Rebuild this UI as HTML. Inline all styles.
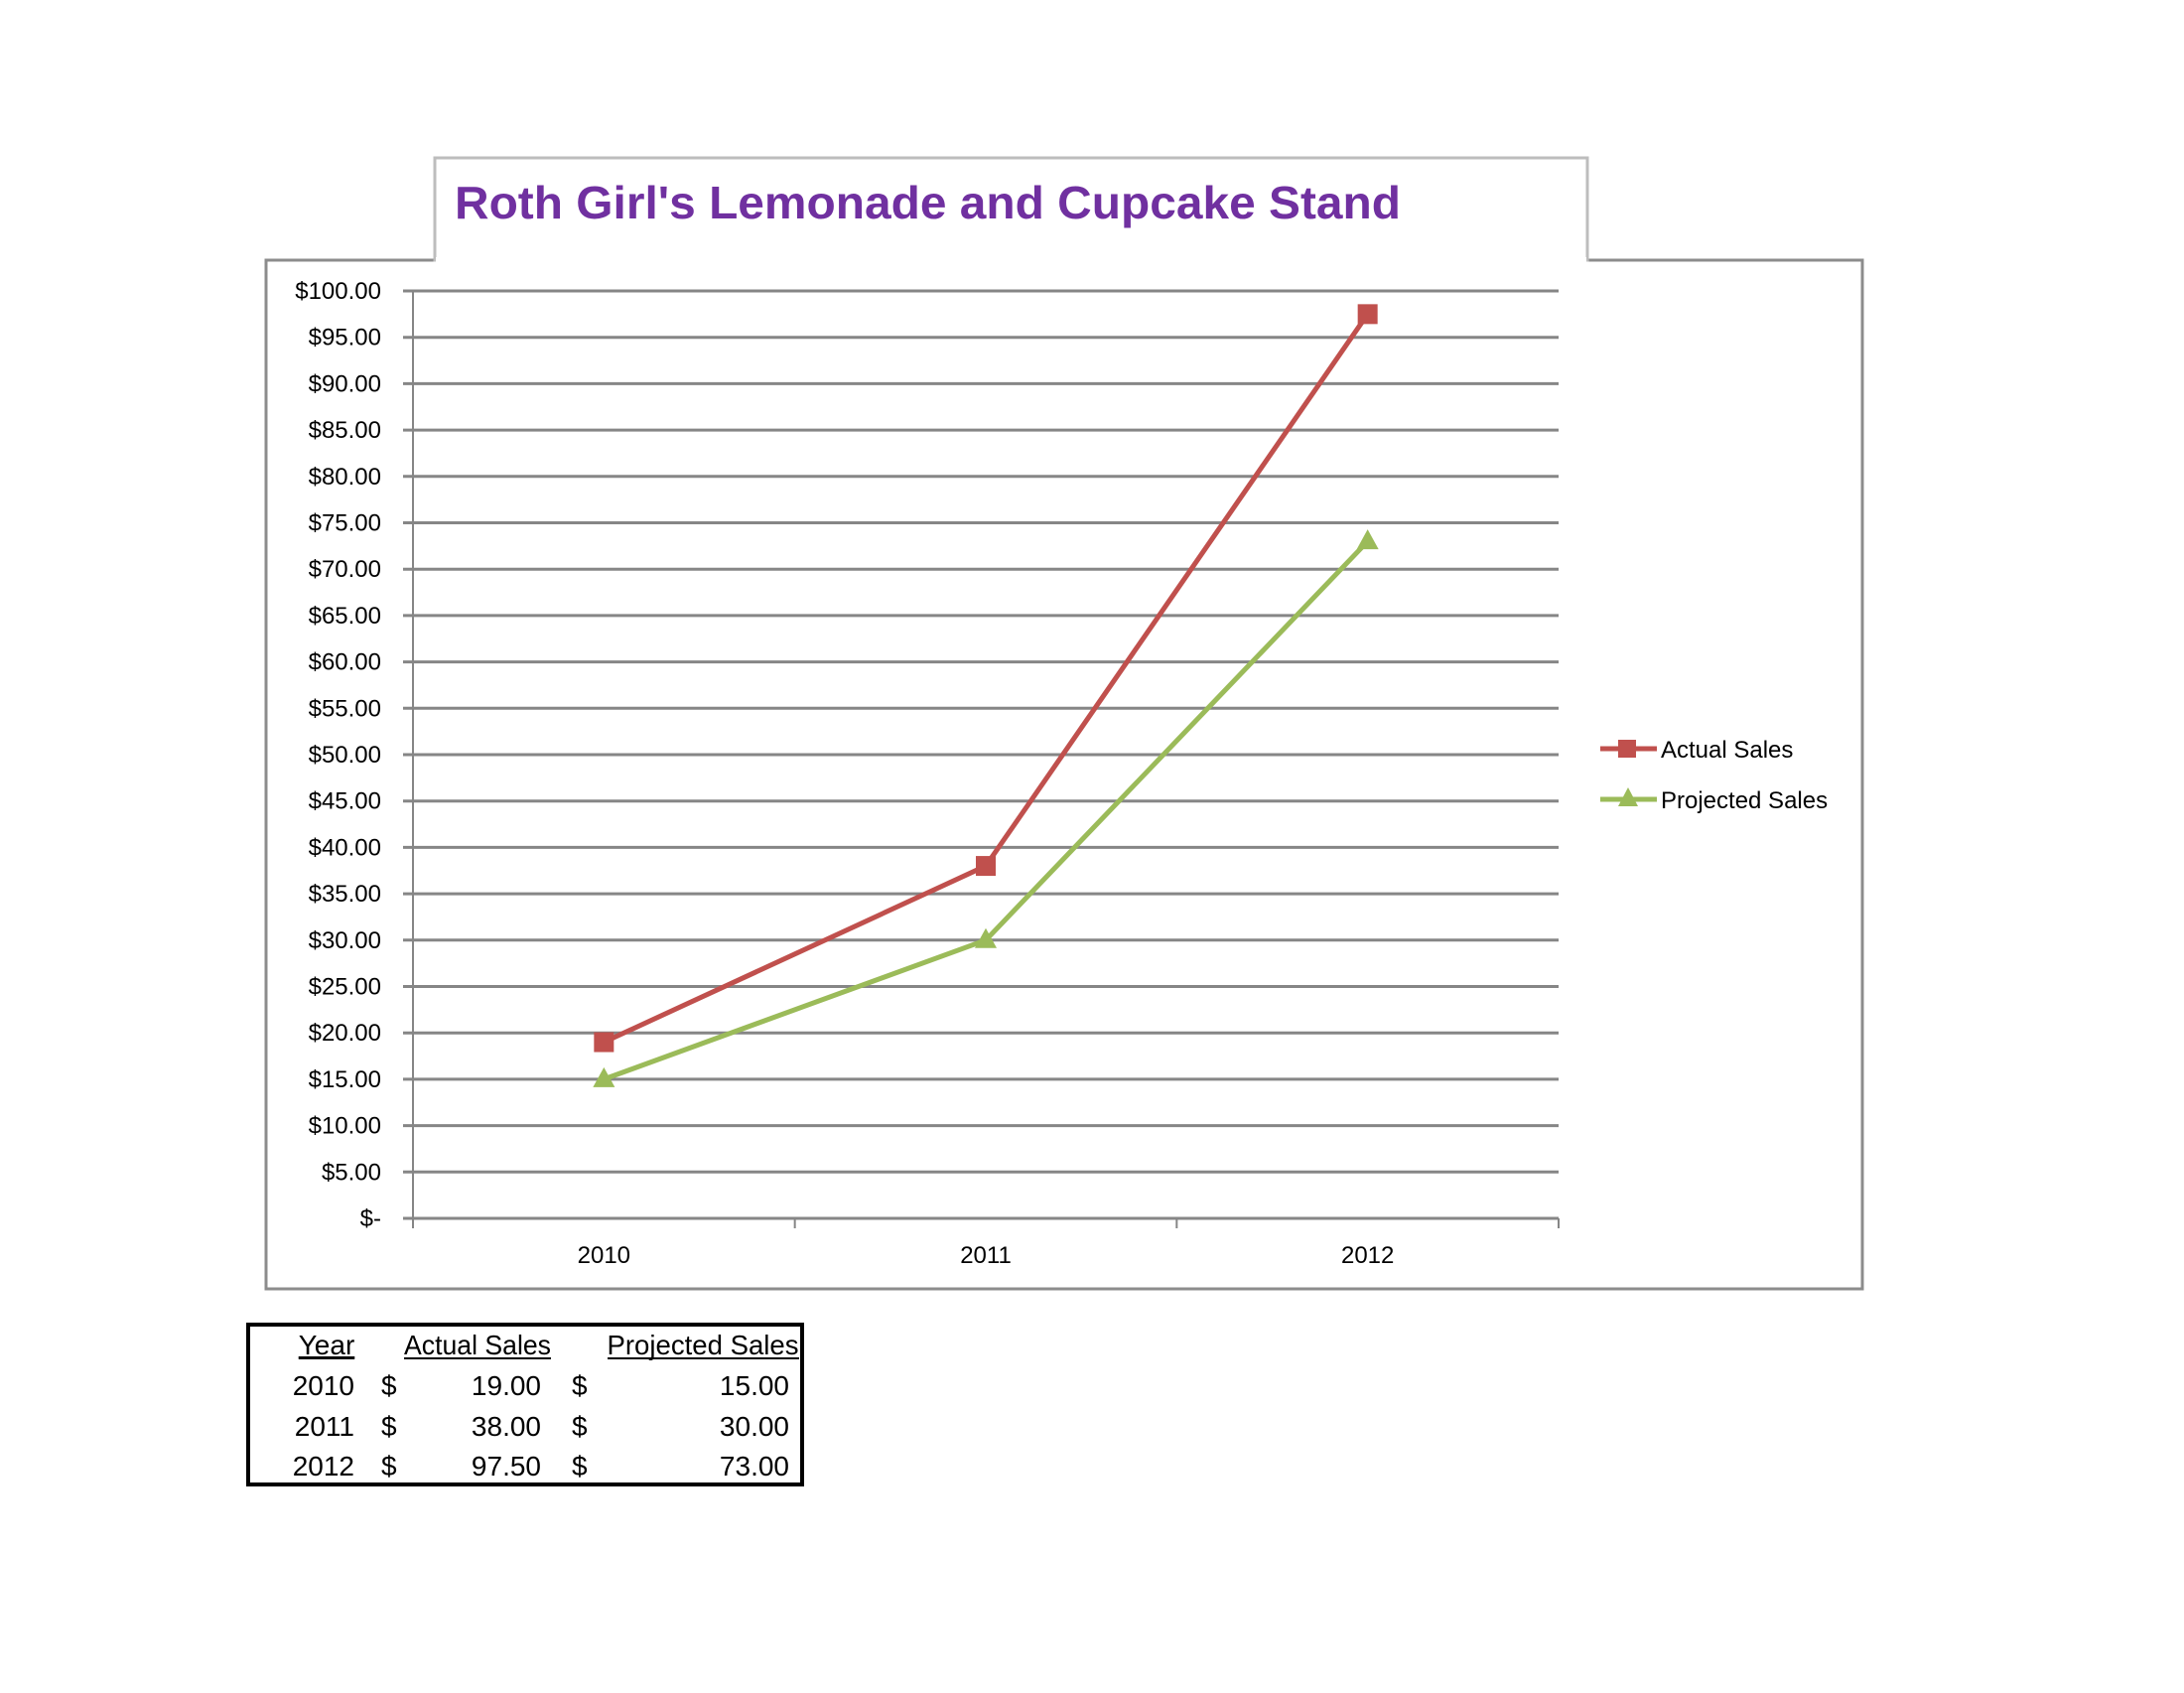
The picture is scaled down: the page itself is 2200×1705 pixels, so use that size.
<!DOCTYPE html>
<html><head><meta charset="utf-8"><style>
body{margin:0;background:#fff;}
svg text{font-family:"Liberation Sans",sans-serif;}
</style></head><body>
<svg id="c" width="2200" height="1700" xmlns="http://www.w3.org/2000/svg">
<rect x="268" y="262" width="1608" height="1036" fill="#fff" stroke="#8c8c8c" stroke-width="3"/>
<rect x="438" y="159" width="1161" height="103" fill="#fff" stroke="#bdbdbd" stroke-width="3"/>
<rect x="439" y="259" width="1159" height="6" fill="#fff"/>
<text x="458" y="220" font-size="46" font-weight="bold" fill="#7030A0" textLength="953" lengthAdjust="spacingAndGlyphs">Roth Girl's Lemonade and Cupcake Stand</text>
<g id="grid"></g><g id="marks"></g>
<g>
<line x1="1612" y1="754" x2="1669" y2="754" stroke="#C0504D" stroke-width="5"/>
<rect x="1630" y="745" width="18" height="18" fill="#C0504D"/>
<text x="1673" y="763" font-size="24" fill="#000">Actual Sales</text>
<line x1="1612" y1="805" x2="1669" y2="805" stroke="#9BBB59" stroke-width="5"/>
<polygon points="1640,793 1650,812 1630,812" fill="#9BBB59"/>
<text x="1673" y="814" font-size="24" fill="#000">Projected Sales</text>
</g>
<g font-size="28" fill="#000">
<rect x="250" y="1334" width="558" height="161" fill="none" stroke="#000" stroke-width="4"/>
<text x="329" y="1364" text-anchor="middle" text-decoration="underline">Year</text>
<line x1="301" y1="1368" x2="357" y2="1368" stroke="#000" stroke-width="2"/>
<text x="481" y="1364" text-anchor="middle" textLength="148" lengthAdjust="spacingAndGlyphs">Actual Sales</text>
<line x1="407" y1="1368" x2="555" y2="1368" stroke="#000" stroke-width="2"/>
<text x="708" y="1364" text-anchor="middle" textLength="193" lengthAdjust="spacingAndGlyphs">Projected Sales</text>
<line x1="612" y1="1368" x2="805" y2="1368" stroke="#000" stroke-width="2"/>
<g id="tbl"></g>
</g>
</svg>
<script>
const categories=["2010","2011","2012"];
const actualSales=[19,38,97.5];
const projectedSales=[15,30,73];
const yTicks=[0,5,10,15,20,25,30,35,40,45,50,55,60,65,70,75,80,85,90,95,100];
const yTickLabels=["$-","$5.00","$10.00","$15.00","$20.00","$25.00","$30.00","$35.00","$40.00","$45.00","$50.00","$55.00","$60.00","$65.00","$70.00","$75.00","$80.00","$85.00","$90.00","$95.00","$100.00"];
const NS="http://www.w3.org/2000/svg";
const L=416,R=1570,T=293,B=1227;
const y=v=>B-(v/100)*(B-T);
const x=i=>L+(i+0.5)*(R-L)/categories.length;
function mk(t,a,p){const e=document.createElementNS(NS,t);for(const k in a)e.setAttribute(k,a[k]);p.appendChild(e);return e;}
const g=document.getElementById('grid');
yTicks.forEach((v,i)=>{
 const ln=mk('line',{x1:L-10,x2:R,y1:y(v),y2:y(v),stroke:'#868686','stroke-width':3},g);
 
 
 const t=mk('text',{x:384,y:y(v)+8,'font-size':24,'text-anchor':'end',fill:'#000'},g);
 t.textContent=yTickLabels[i];
 
 
});
mk('line',{x1:L,x2:L,y1:T,y2:B+8,stroke:'#868686','stroke-width':2},g);
for(let i=0;i<=categories.length;i++){const xx=L+i*(R-L)/categories.length;mk('line',{x1:xx,x2:xx,y1:B,y2:B+10,stroke:'#868686','stroke-width':2},g);}
categories.forEach((c,i)=>{
 const t=mk('text',{x:x(i),y:1272,'font-size':24,'text-anchor':'middle',fill:'#000'},g);
 t.textContent=c;
 
 
});
const m=document.getElementById('marks');
function series(vals,col,name,tri){
 const pl=mk('polyline',{points:vals.map((v,i)=>x(i)+','+y(v)).join(' '),fill:'none',stroke:col,'stroke-width':5,'stroke-linejoin':'round'},m);
 
 
 vals.forEach((v,i)=>{
  let e;
  if(tri)e=mk('polygon',{points:`${x(i)},${y(v)-12} ${x(i)+11},${y(v)+8} ${x(i)-11},${y(v)+8}`,fill:col},m);
  else e=mk('rect',{x:x(i)-10,y:y(v)-10,width:20,height:20,fill:col},m);
  
  
 });
}
series(actualSales,'#C0504D','actual-sales',false);
series(projectedSales,'#9BBB59','projected-sales',true);
const tb=document.getElementById('tbl');
const rowsY=[1405,1446,1486];
categories.forEach((c,i)=>{
 const cells=[[357,c,'end'],[384,'$','start'],[545,actualSales[i].toFixed(2),'end'],[576,'$','start'],[795,projectedSales[i].toFixed(2),'end']];
 cells.forEach(([xx,s,a])=>{
  const t=mk('text',{x:xx,y:rowsY[i],'text-anchor':a},tb);
  t.textContent=s;
  
  
 });
});
</script>
</body></html>
